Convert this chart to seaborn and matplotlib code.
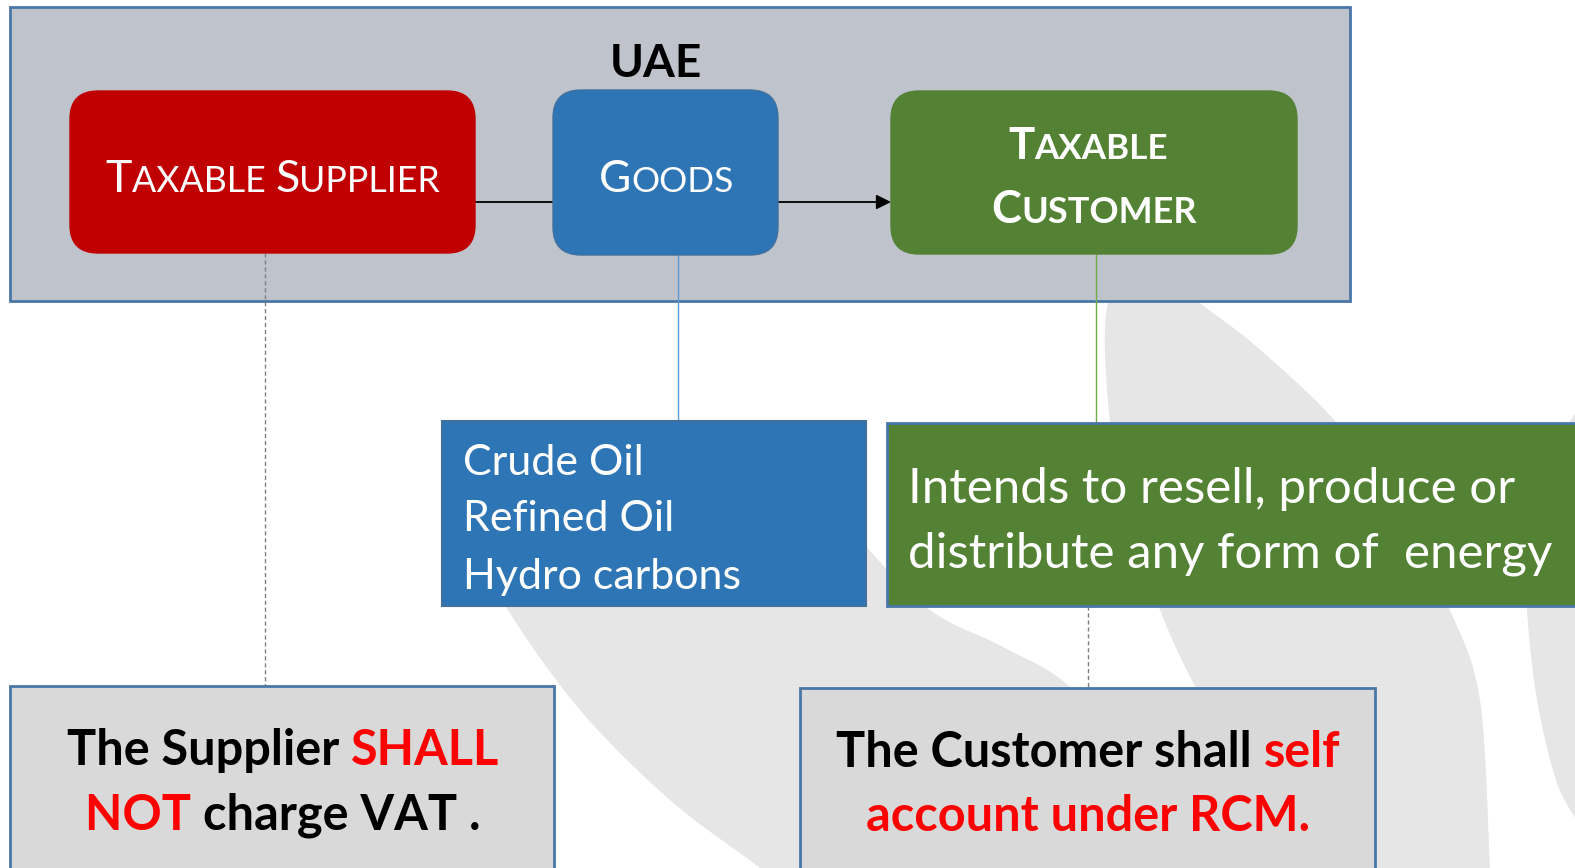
import numpy as np
import matplotlib
matplotlib.use("Agg")
import matplotlib.pyplot as plt
import seaborn as sns
from matplotlib.patches import FancyBboxPatch, Rectangle
from matplotlib.font_manager import FontProperties

# ─────────────────────────────────────────
# Sadrzaj dijagrama
# ─────────────────────────────────────────
region_label = "UAE"
# (tekst, velika slova?) -> small caps naslovi
supplier_title = [("T", True), ("AXABLE ", False), ("S", True), ("UPPLIER", False)]
goods_title = [("G", True), ("OODS", False)]
customer_title = [[("T", True), ("AXABLE", False)],
                  [("C", True), ("USTOMER", False)]]
goods_items = ["Crude Oil", "Refined Oil", "Hydro carbons"]
customer_condition = ["Intends to resell, produce or",
                      "distribute any form of  energy"]
# (tekst, istaknuto?)
supplier_rule = [[("The Supplier ", False), ("SHALL", True)],
                 [("NOT ", True), ("charge VAT .", False)]]
customer_rule = [[("The Customer shall ", False), ("self", True)],
                 [("account under RCM.", True)]]

W, H = 1575, 868
FONT = "Lato"
RED, BLUE, GREEN = "#C00000", "#2E75B6", "#548235"
EDGE = "#4A76A8"
WM = "#E6E6E6"

sns.set_theme(style="white")
plt.rcParams['font.family'] = [FONT, 'DejaVu Sans']

fig = plt.figure(figsize=(W / 100, H / 100), dpi=100)
ax = fig.add_axes([0, 0, 1, 1])
ax.set_xlim(0, W)
ax.set_ylim(H, 0)
ax.set_axis_off()
renderer = fig.canvas.get_renderer()


def run_width(s, size, weight):
    fp = FontProperties(family=FONT, size=size, weight=weight)
    w1, _, _ = renderer.get_text_width_height_descent(s + "|", fp, ismath=False)
    w2, _, _ = renderer.get_text_width_height_descent("|", fp, ismath=False)
    return w1 - w2


def draw_runs(runs, x, y, align="center"):
    # runs: (tekst, velicina, debljina, boja)
    widths = [run_width(t, s, w) for t, s, w, c in runs]
    start = x - sum(widths) / 2 if align == "center" else x
    for (t, s, w, c), wd in zip(runs, widths):
        ax.text(start, y, t, fontsize=s, fontweight=w, color=c,
                va="baseline", ha="left", zorder=10)
        start += wd


def smallcaps(parts, big, weight="normal"):
    return [(t, big if b else big * 0.8, weight, "white") for t, b in parts]


def smooth(points, n=24):
    p = np.asarray(points, float)
    p = np.vstack([p[0], p, p[-1]])
    out = []
    t = np.linspace(0, 1, n, endpoint=False)[:, None]
    for i in range(1, len(p) - 2):
        p0, p1, p2, p3 = p[i - 1], p[i], p[i + 1], p[i + 2]
        out.append(0.5 * (2 * p1 + (-p0 + p2) * t
                          + (2 * p0 - 5 * p1 + 4 * p2 - p3) * t ** 2
                          + (-p0 + 3 * p1 - 3 * p2 + p3) * t ** 3))
    out.append(p[-2][None])
    return np.vstack(out)


def band(left, right):
    pts = np.vstack([smooth(left), smooth(right)[::-1]])
    ax.fill(pts[:, 0], pts[:, 1], color=WM, lw=0, zorder=0)


# ─────────────────────────────────────────
# Vodeni znak u pozadini
# ─────────────────────────────────────────
band([(760, 425), (520, 520), (495, 570), (508, 610), (580, 710), (670, 800), (760, 868), (790, 895)],
     [(760, 425), (860, 540), (930, 610), (1005, 648), (1073, 690), (1150, 790), (1200, 895)])
band([(1150, 260), (1108, 303), (1110, 423), (1130, 520), (1160, 610), (1196, 688), (1260, 800), (1300, 895)],
     [(1150, 260), (1200, 303), (1257, 347), (1337, 423), (1400, 510), (1450, 610), (1480, 700), (1490, 868), (1492, 895)])
band([(1580, 405), (1545, 470), (1528, 560), (1527, 610), (1537, 700), (1557, 783), (1580, 825)],
     [(1580, 405), (1580, 825)])

# ─────────────────────────────────────────
# Okvir UAE i glavni blokovi
# ─────────────────────────────────────────
ax.add_patch(Rectangle((10, 7), 1340, 294, facecolor="#BFC3CC", edgecolor=EDGE, lw=2, zorder=1))
ax.text(656, 77, region_label, fontsize=33, fontweight="bold", color="black",
        ha="center", va="baseline", zorder=10)

for x0, y0, w, h, col, ec in [(70, 91, 405, 162, RED, RED),
                              (553, 90, 225, 165, BLUE, "#41719C"),
                              (891, 91, 406, 163, GREEN, GREEN)]:
    ax.add_patch(FancyBboxPatch((x0, y0), w, h, boxstyle="round,pad=0,rounding_size=28",
                                facecolor=col, edgecolor=ec, lw=1, zorder=5))

draw_runs(smallcaps(supplier_title, 32.2), 273, 192)
draw_runs(smallcaps(goods_title, 31.7), 666, 192)
draw_runs(smallcaps(customer_title[0], 31.5, "bold"), 1088, 159)
draw_runs(smallcaps(customer_title[1], 32.5, "bold"), 1094, 223)

# strelica tok robe
ax.plot([475, 553], [202, 202], color="black", lw=1.3, zorder=4)
ax.annotate("", xy=(891, 202), xytext=(778, 202), zorder=4,
            arrowprops=dict(arrowstyle="-|>", color="black", lw=1.3,
                            mutation_scale=22, shrinkA=0, shrinkB=0))

# vertikalne veze
ax.plot([265, 265], [253, 686], color="#808080", lw=1, ls=(0, (3, 2)), zorder=3)
ax.plot([678, 678], [255, 423], color="#5B9BD5", lw=1, zorder=3)
ax.plot([1096, 1096], [254, 423], color="#70AD47", lw=1, zorder=3)
ax.plot([1088, 1088], [606, 688], color="#808080", lw=1, ls=(0, (3, 2)), zorder=3)

# ─────────────────────────────────────────
# Opisni blokovi
# ─────────────────────────────────────────
ax.add_patch(Rectangle((442, 421), 424, 185, facecolor=BLUE, edgecolor="#41719C", lw=1.5, zorder=5))
for txt, yb in zip(goods_items, [475, 531, 589]):
    ax.text(463, yb, txt, fontsize=31, color="white", ha="left", va="baseline", zorder=10)

ax.add_patch(Rectangle((887, 423), 690, 183, facecolor=GREEN, edgecolor=EDGE, lw=2, zorder=5))
for txt, yb in zip(customer_condition, [503, 567]):
    ax.text(908, yb, txt, fontsize=35.5, color="white", ha="left", va="baseline", zorder=10)

ax.add_patch(Rectangle((10, 686), 544, 200, facecolor="#D9D9D9", edgecolor=EDGE, lw=2, zorder=5))
ax.add_patch(Rectangle((800, 688), 575, 200, facecolor="#D9D9D9", edgecolor=EDGE, lw=2, zorder=5))

for rule, cx, ys in [(supplier_rule, 283, [765, 830]), (customer_rule, 1088, [767, 831])]:
    for line, yb in zip(rule, ys):
        draw_runs([(t, 35, "bold", "#FF0000" if hl else "black") for t, hl in line], cx, yb)

plt.savefig("out.png", dpi=100)
plt.close()
